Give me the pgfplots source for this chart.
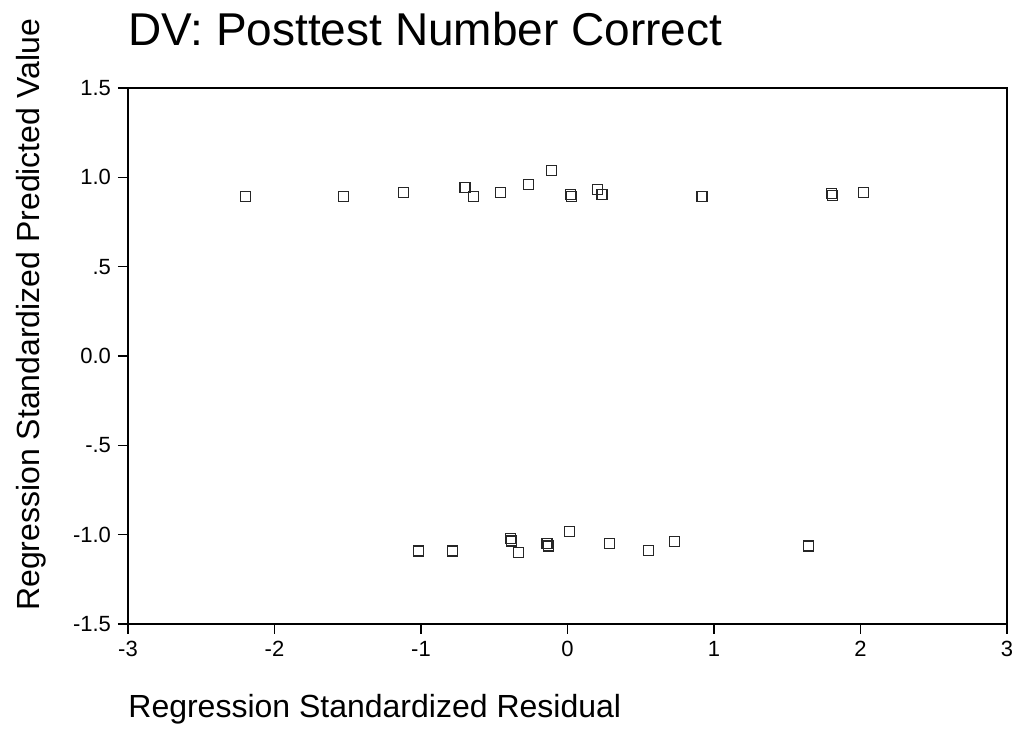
\documentclass[border=0pt]{standalone}
\usepackage{pgfplots}
\pgfplotsset{compat=1.18}
\usepackage{fontspec}
\setmainfont{Liberation Sans}

\begin{document}
\begin{tikzpicture}
\path[use as bounding box] (0,0) rectangle (509pt,373.5pt);
\begin{axis}[
  at={(64pt,61.5pt)}, anchor=south west,
  scale only axis, width=439.5pt, height=268pt,
  xmin=-3, xmax=3, ymin=-1.5, ymax=1.5,
  xtick={-3,-2,-1,0,1,2,3},
  xticklabels={-3,-2,-1,0,1,2,3},
  ytick={-1.5,-1,-0.5,0,0.5,1,1.5},
  yticklabels={-1.5,-1.0,-.5,0.0,.5,1.0,1.5},
  tick align=outside, xtick pos=bottom, ytick pos=left,
  major tick length=5pt,
  tick style={black, line width=0.8pt},
  axis line style={line width=1.1pt},
  tick label style={font=\fontsize{11}{13}\selectfont},
  clip=false,
]
% upper group
\addplot[only marks, mark=square, mark size=2.5pt, mark options={black!85, line width=0.6pt}] coordinates {
(-2.20,0.893) (-1.53,0.893) (-1.12,0.917) (-0.70,0.944) (-0.64,0.893)
(-0.457,0.917) (-0.266,0.960) (-0.11,1.037) (0.02,0.905) (0.03,0.893)
(0.204,0.933) (0.235,0.904) (0.918,0.893) (1.80,0.908) (1.81,0.900)
(2.018,0.917)
};
% lower group
\addplot[only marks, mark=square, mark size=2.5pt, mark options={black!85, line width=0.6pt}] coordinates {
(-1.016,-1.091) (-0.785,-1.091) (-0.39,-1.022) (-0.38,-1.036) (-0.333,-1.101)
(-0.14,-1.050) (-0.13,-1.064) (0.013,-0.981) (0.288,-1.051) (0.554,-1.088)
(0.732,-1.037) (1.645,-1.064)
};
\end{axis}
\node[anchor=base west, font=\fontsize{23}{27}\selectfont, inner sep=0pt] at (64pt,350.5pt) {DV: Posttest Number Correct};
\node[rotate=90, anchor=base, font=\fontsize{16}{19}\selectfont, inner sep=0pt] at (19.5pt,216pt) {Regression Standardized Predicted Value};
\node[anchor=base west, font=\fontsize{16}{19}\selectfont, inner sep=0pt] at (64pt,14.5pt) {Regression Standardized Residual};
\end{tikzpicture}
\end{document}
